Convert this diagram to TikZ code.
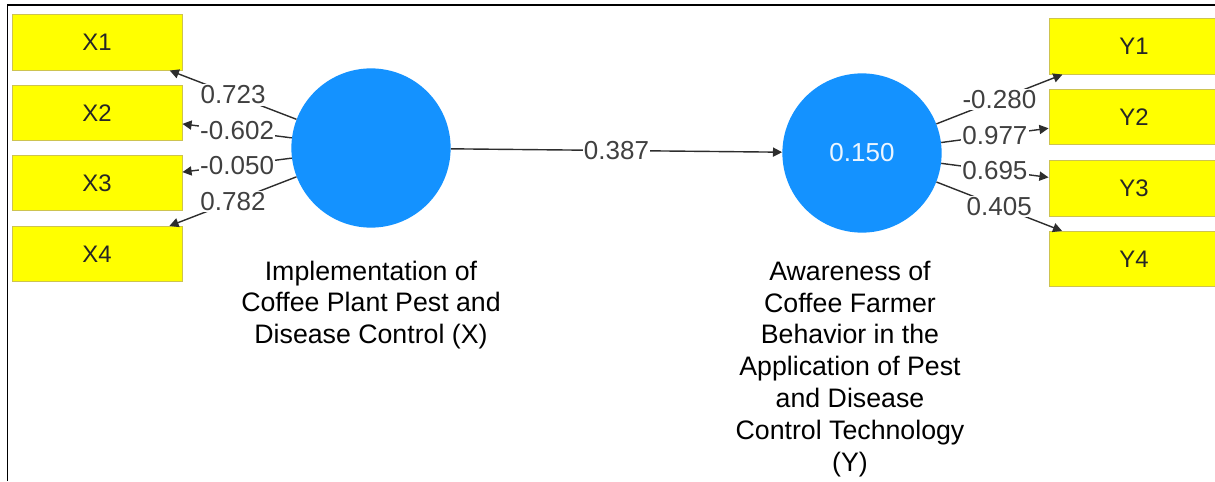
\documentclass[tikz,border=0pt]{standalone}
\usepackage{fontspec}
\setmainfont{Liberation Sans}
\usetikzlibrary{arrows.meta,positioning}
\definecolor{latentblue}{RGB}{20,146,255}
\definecolor{itemyellow}{RGB}{255,255,0}
\definecolor{itemedge}{RGB}{205,195,80}
\definecolor{pathgray}{RGB}{45,45,45}
\begin{document}
\begin{tikzpicture}[x=0.025cm, y=-0.025cm,
    item/.style={draw=itemedge, line width=0.6pt, fill=itemyellow, minimum width=4.25cm,
      minimum height=1.38cm, inner sep=0pt, text=black!85, font=\fontsize{17}{20}\selectfont},
    latent/.style={circle, fill=latentblue, minimum size=3.98cm, inner sep=0pt,
      text=white!92!latentblue, font=\fontsize{18.5}{22}\selectfont},
    load/.style={draw=pathgray, line width=1pt, -{Triangle[length=6.5pt,width=6.5pt]}},
    coef/.style={fill=white, inner sep=1pt, text=black!75, font=\fontsize{18.5}{22}\selectfont},
    caption/.style={align=center, font=\fontsize{19}{22.7}\selectfont}]
  \useasboundingbox (0,0) rectangle (1215,481);
  % --- frame ---
  \draw[line width=1.4pt] (7.5,481) -- (7.5,5) -- (1215,5);

  % --- latent variables ---
  \node[latent] (lx) at (371,148) {};
  \node[latent] (ly) at (862,153) {0.150};
  \node[caption] (capx) at (371,305) {Implementation of\\Coffee Plant Pest and\\Disease Control (X)};
  \node[caption] (capy) at (850,369) {Awareness of\\Coffee Farmer\\Behavior in the\\Application of Pest\\and Disease\\Control Technology\\(Y)};

  % --- indicators ---
  \foreach \i/\yy in {1/42.5,2/113,3/183,4/254}
    \node[item] (x\i) at (97,\yy) {X\i};
  \foreach \i/\yy in {1/46.5,2/117,3/188.5,4/259}
    \node[item] (y\i) at (1134,\yy) {Y\i};

  % --- loadings ---
  \foreach \i/\w in {1/0.723,2/-0.602,3/-0.050,4/0.782}
    \draw[load] (lx) -- node[coef]{\w} (x\i);
  \foreach \i/\w in {1/-0.280,2/0.977,3/0.695,4/0.405}
    \draw[load] (ly) -- node[coef]{\w} (y\i);

  % --- path coefficient ---
  \draw[load] (lx) -- node[coef]{0.387} (ly);
\end{tikzpicture}
\end{document}
